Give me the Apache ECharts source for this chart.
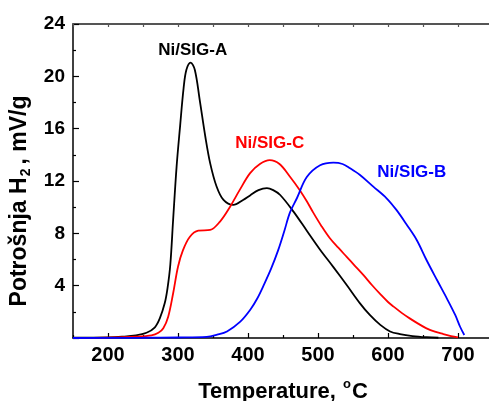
<!DOCTYPE html>
<html>
<head>
<meta charset="utf-8">
<script src="https://cdn.jsdelivr.net/npm/echarts@6/dist/echarts.min.js"></script>
<style>html,body{margin:0;padding:0;background:#fff}#c{width:489px;height:401px}</style>
</head>
<body>
<div id="c"></div>
<script>
// Temperature (°C) and H2 consumption (mV/g)
var tempA = [150,200,220,240,255,267,274,281,285,289,293,298,303,308,312,318,324,331,339,346,355,365,379,393,403,415,427,436,446,465,484,503,522,541,560,574,589,603,617,635,655,672];
var valA  = [0.02,0.05,0.1,0.2,0.4,0.82,1.5,2.65,3.8,5.6,9.0,13.1,16.2,19.1,20.5,21.05,20.5,18.2,15.4,13.35,11.6,10.55,10.17,10.55,10.9,11.3,11.45,11.3,10.93,9.66,8.2,6.75,5.42,4.05,2.65,1.76,1.0,0.5,0.3,0.15,0.06,0.02];

var tempC = [150,200,240,262,272,279,286,293,300,307,317,329,346,360,374,388,403,417,431,445,460,474,484,493,505,517,529,541,553,565,577,589,600,608,620,631,643,655,667,679,690,700];
var valC  = [0.0,0.03,0.1,0.2,0.4,0.75,1.63,3.4,5.45,6.7,7.74,8.2,8.26,8.9,10.0,11.3,12.6,13.3,13.6,13.3,12.33,11.3,10.45,9.6,8.55,7.62,6.9,6.2,5.5,4.8,4.05,3.35,2.75,2.4,1.9,1.5,1.1,0.74,0.48,0.3,0.15,0.05];

var tempB = [150,250,300,341,356,370,389,403,413,423,433,443,452,460,470,484,503,522,535,546,560,579,598,612,627,641,655,670,684,696,703,709];
var valB  = [0.0,0.02,0.04,0.08,0.25,0.5,1.25,2.14,3.0,4.1,5.3,6.7,8.2,9.6,10.7,12.3,13.2,13.4,13.3,12.97,12.46,11.57,10.68,9.79,8.64,7.49,5.96,4.43,3.03,1.76,0.86,0.23];

var xMajor = [200,300,400,500,600,700];
var xMinor = [150,250,350,450,550,650,750];
var seriesNames = ['Ni/SIG-A','Ni/SIG-C','Ni/SIG-B'];
var labelAnchors = [[321,22.0],[431,14.9],[634,12.7]];

function pairs(t,v){return t.map(function(x,i){return [x,v[i]];});}

var chart = echarts.init(document.getElementById('c'));
var sans = "'Liberation Sans',Arial,sans-serif";
var colors = ['#000000','#ff0000','#0000ff'];
var datas = [pairs(tempA,valA), pairs(tempC,valC), pairs(tempB,valB)];

var series = datas.map(function(d,i){
  return {
    type:'line', name:seriesNames[i], data:d, xAxisIndex:0, yAxisIndex:0,
    showSymbol:false, smooth:0.35, lineStyle:{color:colors[i], width:1.8},
    itemStyle:{color:colors[i]}, z:3,
    markPoint:{symbol:'circle', symbolSize:0, silent:true, animation:false,
      data:[{coord:labelAnchors[i], value:seriesNames[i]}],
      label:{show:true, position:'inside', formatter:seriesNames[i], color:colors[i],
        fontFamily:sans, fontWeight:'bold', fontSize:17}}
  };
});

chart.setOption({
  animation:false,
  grid:[
    {left:73, top:24, right:-4, bottom:63, containLabel:false, outerBoundsMode:'none'},
    {left:73, top:24, right:-4, bottom:63, containLabel:false, outerBoundsMode:'none'}
  ],
  xAxis:[
    {type:'value', gridIndex:0, position:'bottom', min:150, max:750, interval:50,
     axisLine:{show:true, lineStyle:{color:'#000', width:1.5}},
     axisTick:{show:true, inside:true, length:5, customValues:xMajor, lineStyle:{color:'#000', width:1.2}},
     axisLabel:{show:true, customValues:xMajor, margin:7, color:'#000', fontFamily:sans, fontWeight:'bold', fontSize:20},
     splitLine:{show:false},
     name:'{a|Temperature, }{s|o}{a|C}', nameLocation:'middle', nameGap:40,
     nameTextStyle:{rich:{a:{fontFamily:sans, fontWeight:'bold', fontSize:22, color:'#000'},
                          s:{fontFamily:sans, fontWeight:'bold', fontSize:13, color:'#000', padding:[0,1,14,1]}}}
    },
    {type:'value', gridIndex:0, position:'top', min:150, max:750, interval:50,
     axisLine:{show:true, lineStyle:{color:'#555', width:2}},
     axisTick:{show:true, inside:true, length:3, lineStyle:{color:'#555', width:1.2}},
     axisLabel:{show:false}, splitLine:{show:false}
    },
    {type:'value', gridIndex:1, position:'bottom', min:150, max:750, interval:50,
     axisLine:{show:false},
     axisTick:{show:true, inside:true, length:3, customValues:xMinor, lineStyle:{color:'#000', width:1.2}},
     axisLabel:{show:false}, splitLine:{show:false}
    }
  ],
  yAxis:[
    {type:'value', gridIndex:0, position:'left', min:0, max:24, interval:4,
     axisLine:{show:true, lineStyle:{color:'#000', width:1.5}},
     axisTick:{show:true, inside:true, length:6, lineStyle:{color:'#000', width:1.2}},
     minorTick:{show:true, splitNumber:2, length:3, lineStyle:{color:'#000', width:1.2}},
     axisLabel:{show:true, margin:8, color:'#000', fontFamily:sans, fontWeight:'bold', fontSize:19,
       formatter:function(v){return v===0?'':String(v);}},
     splitLine:{show:false},
     name:'{a|Potrošnja H}{s|2}{a|, mV/g}', nameLocation:'middle', nameGap:30, nameRotate:90,
     nameTextStyle:{padding:[0,40,0,0], rich:{a:{fontFamily:sans, fontWeight:'bold', fontSize:23, color:'#000'},
                          s:{fontFamily:sans, fontWeight:'bold', fontSize:14, color:'#000', padding:[12,4,0,1]}}}
    },
    {type:'value', gridIndex:1, min:0, max:24, show:false}
  ],
  series:series
});
</script>
</body>
</html>
